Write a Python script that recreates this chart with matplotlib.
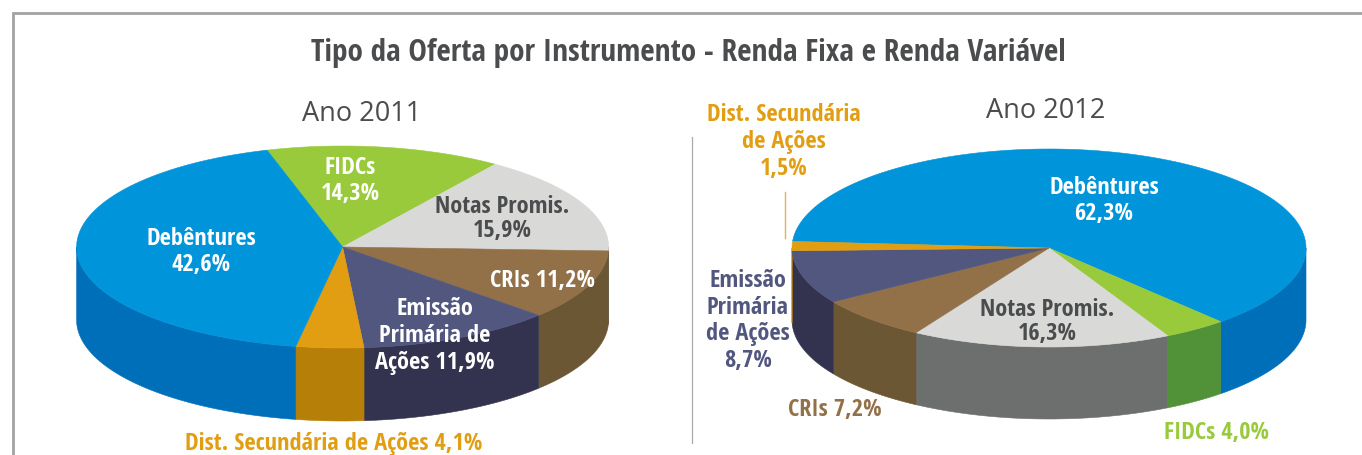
import numpy as np
import matplotlib
matplotlib.use('Agg')
import matplotlib.pyplot as plt

# valores (%)
categorias_2011 = ['FIDCs', 'Notas Promis.', 'CRIs', 'Emissão Primária', 'Dist. Secundária', 'Debêntures']
valores_2011 = [14.3, 15.9, 11.2, 11.9, 4.1, 42.6]
topo_2011 = ['#99CA3C', '#D9D9D7', '#927048', '#52577F', '#E29E12', '#0095DA']
lado_2011 = ['#519239', '#6D6F6E', '#6C5735', '#33324F', '#B67F08', '#006FB9']

categorias_2012 = ['Debêntures', 'FIDCs', 'Notas Promis.', 'CRIs', 'Emissão Primária', 'Dist. Secundária']
valores_2012 = [62.3, 4.0, 16.3, 7.2, 8.7, 1.5]
topo_2012 = ['#0095DA', '#99CA3C', '#D9D9D7', '#927048', '#52577F', '#E29E12']
lado_2012 = ['#006FB9', '#519239', '#6D6F6E', '#6C5735', '#33324F', '#B67F08']

titulo = 'Tipo da Oferta por Instrumento - Renda Fixa e Renda Variável'

BRANCO = 'white'
ESCURO = '#4A4C4D'
LARANJA = '#E29E12'
ROXO = '#52577F'
MARROM = '#927048'
VERDE = '#99CA3C'

NARROW = ['Open Sans Condensed', 'Roboto Condensed', 'Open Sans', 'DejaVu Sans']

# texto, x, y, cor, entrelinha
rotulos = [
    ('FIDCs\n14,3%', 350, 181, BRANCO, 1.14),
    ('Debêntures\n42,6%', 201, 252, BRANCO, 1.14),
    ('Notas Promis.\n15,9%', 502, 219, ESCURO, 1.0),
    ('CRIs 11,2%', 542, 281, BRANCO, 1.12),
    ('Emissão\nPrimária de\nAções 11,9%', 435, 336, BRANCO, 1.14),
    ('Dist. Secundária de Ações 4,1%', 334, 444, LARANJA, 1.12),
    ('Dist. Secundária\nde Ações\n1,5%', 784, 142, LARANJA, 1.14),
    ('Debêntures\n62,3%', 1104, 201, BRANCO, 1.14),
    ('Emissão\nPrimária\nde Ações\n8,7%', 748, 321, ROXO, 1.14),
    ('Notas Promis.\n16,3%', 1047, 322, ESCURO, 1.0),
    ('CRIs 7,2%', 835, 410, MARROM, 1.12),
    ('FIDCs 4,0%', 1216, 433, VERDE, 1.12),
]


def desenha_pizza(ax, valores, topo, lado, cx, cy, rx, ry, altura, inicio):
    angulo = inicio
    # laterais primeiro, depois o topo
    fatias = []
    for v in valores:
        fim = angulo - v * 3.6
        fatias.append((angulo, fim))
        angulo = fim

    for (a1, a2), cor in zip(fatias, lado):
        for k in (-360, 0, 360):
            alto = min(a1 + k, 0)
            baixo = max(a2 + k, -180)
            if alto <= baixo:
                continue
            t = np.radians(np.linspace(alto, baixo, 80))
            x = cx + rx * np.cos(t)
            y = cy - ry * np.sin(t)
            ax.fill(np.r_[x, x[::-1]], np.r_[y, y[::-1] + altura],
                    color=cor, lw=0.4, zorder=2)

    for (a1, a2), cor in zip(fatias, topo):
        t = np.radians(np.linspace(a1, a2, 160))
        x = np.r_[cx, cx + rx * np.cos(t)]
        y = np.r_[cy, cy - ry * np.sin(t)]
        ax.fill(x, y, color=cor, lw=0.4, zorder=3)


fig = plt.figure(figsize=(13.62, 4.55), dpi=100)
ax = fig.add_axes([0, 0, 1, 1])
ax.set_xlim(0, 1362)
ax.set_ylim(455, 0)
ax.axis('off')

# moldura e divisoria
ax.plot([13, 13, 1362], [455, 13, 13], color='#A0A2A4', lw=2, solid_joinstyle='miter', zorder=1)
ax.plot([692, 692], [137, 443], color='#A9ABAD', lw=0.9, zorder=1)

desenha_pizza(ax, valores_2011, topo_2011, lado_2011, 342.6, 247, 266, 101, 73, 106.5)
desenha_pizza(ax, valores_2012, topo_2012, lado_2012, 1049, 248, 257, 99, 72, 176.2)

# linha da Dist. Secundaria 2012
ax.plot([785, 785], [192, 238], color='#E8B04A', lw=1, zorder=4)

ax.text(688, 53, titulo, family=NARROW, fontsize=22.5, fontweight='bold', color=ESCURO,
        ha='center', va='center', zorder=5)
ax.text(362, 114, 'Ano 2011', family=['Open Sans', 'DejaVu Sans'], fontsize=19.5, color=ESCURO,
        ha='center', va='center', zorder=5)
ax.text(1046, 111, 'Ano 2012', family=['Open Sans', 'DejaVu Sans'], fontsize=19.5, color=ESCURO,
        ha='center', va='center', zorder=5)

for texto, x, y, cor, entre in rotulos:
    ax.text(x, y, texto, family=NARROW, fontsize=17.6, fontweight='bold', color=cor,
            ha='center', va='center', linespacing=entre, zorder=5)

fig.savefig('out.png', dpi=100, facecolor='white')
